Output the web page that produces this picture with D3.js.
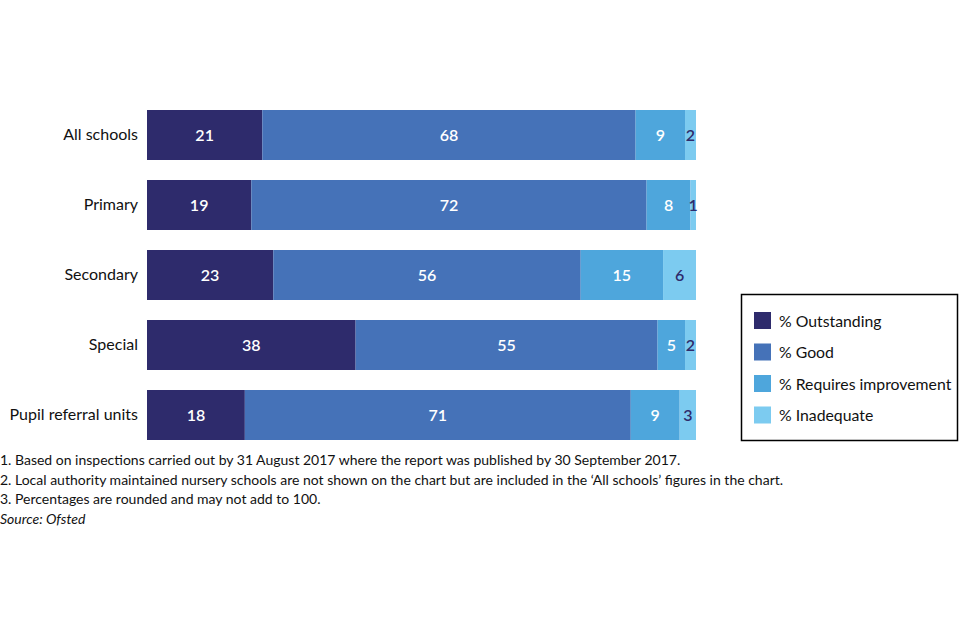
<!DOCTYPE html>
<html>
<head>
<meta charset="utf-8">
<script src="https://cdn.jsdelivr.net/npm/d3@7"></script>
<style>
  body { margin: 0; background: #fff; }
  svg { font-family: Lato, "Noto Sans", sans-serif; }
</style>
</head>
<body>
<div id="chart"></div>
<script>
// data
var categories = ["All schools", "Primary", "Secondary", "Special", "Pupil referral units"];
var seriesNames = ["% Outstanding", "% Good", "% Requires improvement", "% Inadequate"];
var outstanding = [21, 19, 23, 38, 18];
var good = [68, 72, 56, 55, 71];
var requiresImprovement = [9, 8, 15, 5, 9];
var inadequate = [2, 1, 6, 2, 3];
var notes = [
  "1. Based on inspections carried out by 31 August 2017 where the report was published by 30 September 2017.",
  "2. Local authority maintained nursery schools are not shown on the chart but are included in the \u2018All schools\u2019 figures in the chart.",
  "3. Percentages are rounded and may not add to 100."
];
var source = "Source: Ofsted";

var colours = ["#2e2b6c", "#4572b8", "#4ea6dc", "#7ccbf0"];
var labelColours = ["#fff", "#fff", "#fff", "#2e2b6c"];

var width = 960, height = 640;
var margin = {left: 147, top: 110};
var plotW = 549;

var svg = d3.select("#chart").append("svg")
    .attr("width", width)
    .attr("height", height);

var keys = ["o", "g", "r", "i"];
var rows = categories.map(function(c, i) {
  return {cat: c, o: outstanding[i], g: good[i], r: requiresImprovement[i], i: inadequate[i]};
});

// bars fill the full width, each row scaled to its own total
var stacked = d3.stack().keys(keys)
    .offset(d3.stackOffsetExpand)(rows);

var x = d3.scaleLinear().domain([0, 1]).range([margin.left, margin.left + plotW]);
var y = d3.scaleBand().domain(categories)
    .range([margin.top - 10, margin.top + 5 * 70 - 10])
    .paddingInner(20 / 70).paddingOuter(10 / 70);

var layer = svg.selectAll("g.layer")
  .data(stacked)
  .enter().append("g")
    .attr("class", "layer")
    .attr("fill", function(d, k) { return colours[k]; });

layer.selectAll("rect")
  .data(function(d) { return d; })
  .enter().append("rect")
    .attr("x", function(d) { return x(d[0]); })
    .attr("y", function(d) { return y(d.data.cat); })
    .attr("width", function(d) { return x(d[1]) - x(d[0]); })
    .attr("height", y.bandwidth());

layer.selectAll("text")
  .data(function(d) { return d.map(function(p) { p.key = d.key; p.k = d.index; return p; }); })
  .enter().append("text")
    .attr("x", function(d) { return (x(d[0]) + x(d[1])) / 2; })
    .attr("y", function(d) { return y(d.data.cat) + y.bandwidth() / 2; })
    .attr("dy", "0.36em")
    .attr("text-anchor", "middle")
    .attr("font-size", 16)
    .attr("font-weight", 600)
    .attr("fill", function(d) { return labelColours[d.k]; })
    .text(function(d) { return d.data[d.key]; });

var y_axis = d3.axisLeft(y).tickSize(0).tickPadding(9);
svg.append("g")
    .attr("class", "y axis")
    .attr("transform", "translate(" + margin.left + ",0)")
    .call(y_axis)
    .call(function(g) { g.select(".domain").remove(); })
    .selectAll("text")
    .attr("font-size", 16)
    .attr("font-family", "Lato, 'Noto Sans', sans-serif")
    .attr("fill", "#111");

// legend
var legend = svg.append("g").attr("transform", "translate(741,294)");
legend.append("rect")
    .attr("x", 0.5).attr("y", 0.5)
    .attr("width", 216).attr("height", 146)
    .attr("fill", "#fff").attr("stroke", "#000").attr("stroke-width", 1.5);
var item = legend.selectAll("g.item")
  .data(seriesNames)
  .enter().append("g")
    .attr("class", "item")
    .attr("transform", function(d, k) { return "translate(13," + (18 + k * 31.5) + ")"; });
item.append("rect")
    .attr("width", 17).attr("height", 17)
    .attr("fill", function(d, k) { return colours[k]; });
item.append("text")
    .attr("x", 25).attr("y", 9).attr("dy", "0.36em")
    .attr("font-size", 15.8).attr("fill", "#111")
    .text(function(d) { return d; });

// notes
svg.selectAll("text.note")
  .data(notes)
  .enter().append("text")
    .attr("class", "note")
    .attr("x", 0)
    .attr("y", function(d, k) { return 465 + k * 19.5; })
    .attr("font-size", 14).attr("fill", "#111")
    .text(function(d) { return d; });
svg.append("text")
    .attr("x", 0).attr("y", 523.5)
    .attr("font-size", 14).attr("font-style", "italic").attr("fill", "#111")
    .text(source);
</script>
</body>
</html>
